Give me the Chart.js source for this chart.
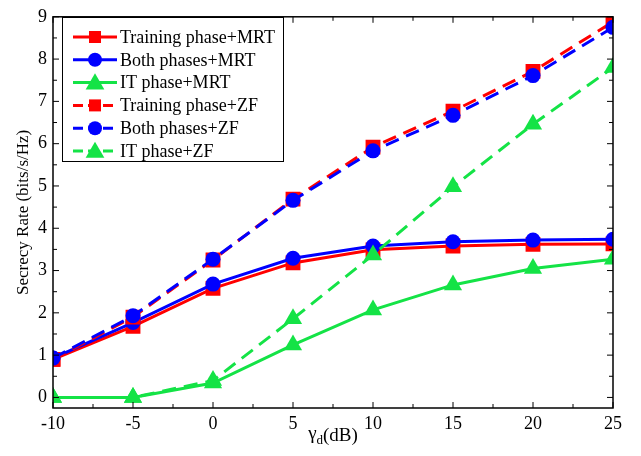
<!DOCTYPE html>
<html lang="en">
<head>
    <meta charset="UTF-8">
    <script src="https://cdn.jsdelivr.net/npm/chart.js@4.4.0/dist/chart.umd.min.js"></script>
    <title>Secrecy Rate</title>
    <style>
        body {margin: 0; background: #fff;}
        canvas {display: block;}
    </style>
</head>
<body>
    <canvas id="chart" width="641" height="456"></canvas>

    <script>
    // gamma_d (dB)
    const xValues = [-10, -5, 0, 5, 10, 15, 20, 25];
    const yTicks = [0, 1, 2, 3, 4, 5, 6, 7, 8, 9];

    const trainingMRT = [0.90, 1.68, 2.58, 3.18, 3.49, 3.58, 3.62, 3.63];
    const bothMRT     = [0.93, 1.77, 2.68, 3.29, 3.58, 3.68, 3.72, 3.74];
    const itMRT       = [0.00, 0.00, 0.34, 1.24, 2.07, 2.66, 3.05, 3.27];
    const trainingZF  = [0.90, 1.90, 3.25, 4.69, 5.92, 6.77, 7.71, 8.88];
    const bothZF      = [0.93, 1.93, 3.27, 4.66, 5.83, 6.67, 7.61, 8.75];
    const itZF        = [0.00, 0.00, 0.40, 1.86, 3.37, 4.98, 6.46, 7.80];

    const labels = ['Training phase+MRT', 'Both phases+MRT', 'IT phase+MRT',
                    'Training phase+ZF', 'Both phases+ZF', 'IT phase+ZF'];

    const RED = '#ff0000', BLUE = '#0000ff', GREEN = '#14e346';
    const FONT = "'Times New Roman', 'Liberation Serif', serif";

    const series = [
        {data: trainingMRT, color: RED,   marker: 'rect',     dash: []},
        {data: bothMRT,     color: BLUE,  marker: 'circle',   dash: []},
        {data: itMRT,       color: GREEN, marker: 'triangle', dash: []},
        {data: trainingZF,  color: RED,   marker: 'rect',     dash: [14, 8]},
        {data: bothZF,      color: BLUE,  marker: 'circle',   dash: [14, 8]},
        {data: itZF,        color: GREEN, marker: 'triangle', dash: [14, 8]}
    ];
    const radius = {rect: 10.5, circle: 7.5, triangle: 10.5};

    const datasets = series.map((s, i) => ({
        label: labels[i],
        data: xValues.map((x, j) => ({x: x, y: s.data[j]})),
        borderColor: s.color,
        backgroundColor: s.color,
        borderWidth: 3,
        borderDash: s.dash,
        pointStyle: s.marker,
        pointRadius: radius[s.marker],
        pointBorderWidth: 0,
        tension: 0,
        clip: 0,
        order: 6 - i
    }));

    function drawMarker(ctx, type, x, y, size) {
        ctx.beginPath();
        if (type === 'rect') {
            ctx.rect(x - size / 2, y - size / 2, size, size);
        } else if (type === 'circle') {
            ctx.arc(x, y, size / 2, 0, Math.PI * 2);
        } else {
            ctx.moveTo(x, y - size * 0.55);
            ctx.lineTo(x + size * 0.55, y + size * 0.4);
            ctx.lineTo(x - size * 0.55, y + size * 0.4);
            ctx.closePath();
        }
        ctx.fill();
    }

    const framePlugin = {
        id: 'frame',
        afterDraw(chart) {
            const ctx = chart.ctx;
            const a = chart.chartArea;
            const xs = chart.scales.x, ys = chart.scales.y;
            ctx.save();
            ctx.strokeStyle = '#000';
            ctx.lineWidth = 1.5;
            ctx.setLineDash([]);
            ctx.strokeRect(a.left, a.top, a.right - a.left, a.bottom - a.top);

            // inward ticks on all four sides
            ctx.lineWidth = 1;
            ctx.beginPath();
            for (let v = -10; v <= 25; v += 2.5) {
                const px = xs.getPixelForValue(v);
                const len = (v % 5 === 0) ? 6 : 4;
                ctx.moveTo(px, a.bottom); ctx.lineTo(px, a.bottom - len);
                ctx.moveTo(px, a.top); ctx.lineTo(px, a.top + len);
            }
            for (let v = 0; v <= 9; v += 0.5) {
                const py = ys.getPixelForValue(v);
                const len = (v % 1 === 0) ? 6 : 4;
                ctx.moveTo(a.left, py); ctx.lineTo(a.left + len, py);
                ctx.moveTo(a.right, py); ctx.lineTo(a.right - len, py);
            }
            ctx.stroke();

            // x axis title with subscript
            ctx.fillStyle = '#000';
            ctx.textBaseline = 'alphabetic';
            ctx.font = '19px ' + FONT;
            const wg = ctx.measureText('\u03b3').width;
            const wb = ctx.measureText('(dB)').width;
            ctx.font = '13px ' + FONT;
            const wd = ctx.measureText('d').width;
            let tx = (a.left + a.right) / 2 - (wg + wd + wb) / 2;
            const ty = 441;
            ctx.font = '19px ' + FONT;
            ctx.fillText('\u03b3', tx, ty - 2);
            tx += wg;
            ctx.font = '13px ' + FONT;
            ctx.fillText('d', tx, ty + 3);
            tx += wd;
            ctx.font = '19px ' + FONT;
            ctx.fillText('(dB)', tx, ty);

            // legend
            const bx = 62, by = 17, bw = 221, bh = 144;
            ctx.fillStyle = '#fff';
            ctx.fillRect(bx, by, bw, bh);
            ctx.strokeStyle = '#000';
            ctx.lineWidth = 1;
            ctx.strokeRect(bx + 0.5, by + 0.5, bw, bh);
            series.forEach((s, i) => {
                const cy = 37 + i * 22.8;
                ctx.strokeStyle = s.color;
                ctx.fillStyle = s.color;
                ctx.lineWidth = 3;
                ctx.setLineDash(s.dash.length ? [10, 5] : []);
                ctx.beginPath();
                ctx.moveTo(73, cy); ctx.lineTo(117, cy);
                ctx.stroke();
                ctx.setLineDash([]);
                const size = s.marker === 'rect' ? 12 : (s.marker === 'circle' ? 14 : 17);
                drawMarker(ctx, s.marker, 95, cy, size);
                ctx.fillStyle = '#000';
                ctx.font = '18px ' + FONT;
                ctx.textBaseline = 'middle';
                ctx.fillText(labels[i], 120, cy + 1);
            });
            ctx.restore();
        }
    };

    const config = {
        type: 'line',
        data: {datasets: datasets},
        options: {
            responsive: false,
            animation: false,
            layout: {padding: {top: 14, right: 28, left: 0, bottom: 0}},
            plugins: {
                legend: {display: false},
                tooltip: {enabled: false}
            },
            scales: {
                x: {
                    type: 'linear',
                    min: -10,
                    max: 25,
                    grid: {display: false, drawTicks: false},
                    border: {display: false},
                    ticks: {
                        stepSize: 5,
                        maxRotation: 0,
                        padding: 5,
                        color: '#000',
                        font: {family: FONT, size: 18}
                    },
                    afterFit: s => { s.height = 48; }
                },
                y: {
                    type: 'linear',
                    min: -0.25,
                    max: 9,
                    grid: {display: false, drawTicks: false},
                    border: {display: false},
                    afterBuildTicks: s => { s.ticks = yTicks.map(v => ({value: v})); },
                    ticks: {
                        padding: 6,
                        color: '#000',
                        font: {family: FONT, size: 18}
                    },
                    title: {
                        display: true,
                        text: 'Secrecy Rate (bits/s/Hz)',
                        color: '#000',
                        font: {family: FONT, size: 17},
                        padding: {top: 13, bottom: 0}
                    },
                    afterFit: s => { s.width = 53; }
                }
            }
        },
        plugins: [framePlugin]
    };

    const ctx = document.getElementById('chart').getContext('2d');
    let myChart = new Chart(ctx, config);
    </script>
</body>
</html>
